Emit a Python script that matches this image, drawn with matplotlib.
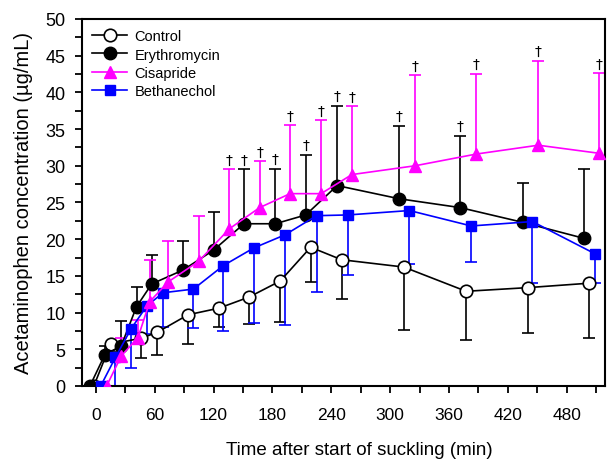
import numpy as np
import matplotlib.pyplot as plt
from matplotlib.ticker import MultipleLocator

plt.rcParams['font.family'] = ['Liberation Sans', 'DejaVu Sans']

# Control (open circles), error bars point down
ctrl_t = [-2, 15, 46, 62.5, 94, 125.5, 156, 188, 219, 250.5, 314, 377.5, 440.5, 502.7]
ctrl_y = [0, 5.7, 6.5, 7.3, 9.7, 10.6, 12.1, 14.3, 18.9, 17.2, 16.2, 12.9, 13.4, 14.0]
ctrl_lo = [0, 4.6, 3.8, 4.2, 5.7, 8.0, 8.5, 8.7, 14.2, 11.9, 7.6, 6.3, 7.2, 6.5]

# Erythromycin (filled circles), error bars point up
ery_t = [-6, 9, 26, 41.5, 57, 89, 120, 151, 183, 214, 246, 309.5, 371.4, 435, 498]
ery_y = [0, 4.2, 5.5, 10.8, 13.9, 15.8, 18.5, 22.1, 22.1, 23.3, 27.3, 25.5, 24.3, 22.3, 20.1]
ery_hi = [0, 5.4, 8.9, 13.5, 17.8, 19.7, 23.7, 29.5, 29.6, 31.5, 38.2, 35.4, 34.1, 27.7, 29.5]
ery_sig = [0, 0, 0, 0, 0, 0, 0, 1, 1, 1, 1, 1, 1, 0, 0]

# Cisapride (triangles), error bars point up
cis_t = [11, 26, 43, 55, 74, 105, 136, 167, 198, 229.6, 261, 325.5, 388, 451, 513]
cis_y = [0, 4.1, 6.6, 11.5, 14.2, 17.0, 21.4, 24.3, 26.2, 26.2, 28.8, 30.0, 31.6, 32.8, 31.7]
cis_hi = [0, 6.5, 9.0, 17.1, 19.7, 23.2, 29.5, 30.6, 35.5, 36.2, 38.1, 42.3, 42.5, 44.3, 42.6]
cis_sig = [0, 0, 0, 0, 0, 0, 1, 1, 1, 1, 1, 1, 1, 1, 1]

# Bethanechol (squares), error bars point down
bet_t = [5, 20, 36, 52, 68.5, 99.5, 130, 161, 193, 225, 257, 319.7, 382.7, 445, 509]
bet_y = [0, 3.9, 7.8, 10.9, 12.7, 13.2, 16.4, 18.8, 20.6, 23.2, 23.3, 23.9, 21.8, 22.4, 18.0]
bet_lo = [0, 0, 2.5, 7.1, 8.0, 7.9, 7.5, 8.6, 8.3, 12.8, 15.1, 16.6, 16.9, 14.0, 14.0]

fig = plt.figure(figsize=(6.08, 4.64), dpi=100)
ax = fig.add_axes([0.135, 0.166, 0.86, 0.791])

lw = 1.2
cap = 8


def bars(t, y, end, color, z):
    ax.vlines(t, y, end, color=color, lw=lw, zorder=z)
    ax.plot(t, end, ls='', marker='_', ms=cap, mew=lw, color=color, zorder=z)


bars(ctrl_t, ctrl_y, ctrl_lo, 'black', 2)
bars(bet_t, bet_y, bet_lo, '#0000ff', 2)
bars(ery_t, ery_y, ery_hi, 'black', 2)
bars(cis_t, cis_y, cis_hi, '#ff00ff', 2)

ax.plot(ctrl_t, ctrl_y, color='black', lw=lw, marker='o', ms=9, mfc='white',
        mec='black', mew=1.2, label='Control', zorder=3)
ax.plot(ery_t, ery_y, color='black', lw=lw, marker='o', ms=9, mfc='black',
        mec='black', label='Erythromycin', zorder=4)
ax.plot(cis_t, cis_y, color='#ff00ff', lw=lw, marker='^', ms=9, mfc='#ff00ff',
        mec='#ff00ff', label='Cisapride', zorder=5)
ax.plot(bet_t, bet_y, color='#0000ff', lw=lw, marker='s', ms=7.5, mfc='#0000ff',
        mec='#0000ff', label='Bethanechol', zorder=4)

for t, hi, s in zip(ery_t, ery_hi, ery_sig):
    if s:
        ax.annotate('†', (t, hi), xytext=(0, 2), textcoords='offset points',
                    ha='center', va='bottom', fontsize=10, family='DejaVu Sans')
for t, hi, s in zip(cis_t, cis_hi, cis_sig):
    if s:
        ax.annotate('†', (t, hi), xytext=(0, 2), textcoords='offset points',
                    ha='center', va='bottom', fontsize=10, family='DejaVu Sans')

ax.set_xlim(-14, 519)
ax.set_ylim(0, 50)
ax.set_xticks(np.arange(0, 481, 60))
ax.xaxis.set_minor_locator(MultipleLocator(30))
ax.yaxis.set_major_locator(MultipleLocator(5))
ax.yaxis.set_minor_locator(MultipleLocator(2.5))
ax.tick_params(which='both', direction='out', width=1.3, length=5)
ax.tick_params(axis='x', labelsize=12.5, pad=10)
ax.tick_params(axis='y', labelsize=13, pad=7)
for sp in ax.spines.values():
    sp.set_linewidth(1.5)

ax.set_xlabel('Time after start of suckling (min)', fontsize=13.5)
ax.xaxis.set_label_coords(0.53, -0.15)
ax.set_ylabel('Acetaminophen concentration (µg/mL)', fontsize=14.5, labelpad=9)

ax.legend(loc='upper left', frameon=False, fontsize=10.5, handlelength=2.4,
          handletextpad=0.5, labelspacing=0.3, borderaxespad=0.3,
          bbox_to_anchor=(0.0, 1.0))

fig.savefig('out.png', dpi=100)
